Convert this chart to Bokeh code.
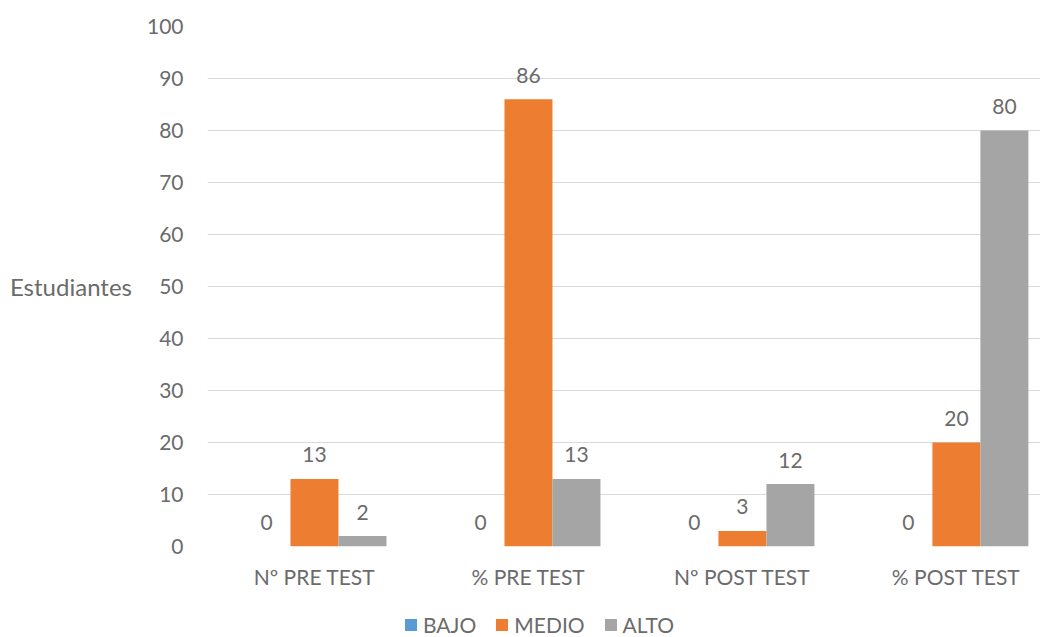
from bokeh.plotting import figure
from bokeh.layouts import column
from bokeh.models import ColumnDataSource, Range1d, FixedTicker, Legend, LegendItem
from bokeh.embed import file_html
from bokeh.resources import INLINE
from bokeh.core.properties import value

categories = ["Nº PRE TEST", "% PRE TEST", "Nº POST TEST", "% POST TEST"]
series = ["BAJO", "MEDIO", "ALTO"]
bajo = [0, 0, 0, 0]
medio = [13, 86, 3, 20]
alto = [2, 13, 12, 80]
colors = ["#5B9BD5", "#ED7D31", "#A5A5A5"]
y_ticks = [0, 10, 20, 30, 40, 50, 60, 70, 80, 90, 100]

FONT = "Lato"
TXT = "#6b6b6b"
BAR_W = 0.2243

p = figure(width=1040, height=609, output_backend="svg", toolbar_location=None,
           x_range=Range1d(-0.5, 3.393), y_range=Range1d(0, 100),
           min_border_left=207, min_border_right=0, min_border_top=26,
           min_border_bottom=63)
p.outline_line_color = None
p.xgrid.grid_line_color = None
p.ygrid.grid_line_color = "#D9D9D9"
p.ygrid.grid_line_width = 1

idx = list(range(len(categories)))
all_vals = [bajo, medio, alto]
for k, (name, vals, col) in enumerate(zip(series, all_vals, colors)):
    off = (k - 1) * BAR_W
    src = ColumnDataSource(dict(x=[i + off for i in idx], top=vals,
                                lab=[str(v) for v in vals]))
    p.vbar(x="x", top="top", width=BAR_W, source=src, fill_color=col,
           line_color=None)
    p.text(x="x", y="top", text="lab", source=src, text_align="center",
           text_baseline="middle", y_offset=-24, text_color=TXT,
           text_font=value(FONT), text_font_size="21px")

p.xaxis.ticker = FixedTicker(ticks=idx)
p.xaxis.major_label_overrides = {i: c for i, c in enumerate(categories)}
p.yaxis.ticker = FixedTicker(ticks=y_ticks)
for ax in (p.xaxis, p.yaxis):
    ax.axis_line_color = None
    ax.major_tick_line_color = None
    ax.minor_tick_line_color = None
    ax.major_label_text_color = TXT
    ax.major_label_text_font = FONT
    ax.major_label_text_font_size = "21px"
p.xaxis.major_label_standoff = 11
p.yaxis.major_label_standoff = 18
p.yaxis.axis_label = "Estudiantes"
p.yaxis.axis_label_orientation = "horizontal"
p.yaxis.axis_label_text_font = FONT
p.yaxis.axis_label_text_font_style = "normal"
p.yaxis.axis_label_text_font_size = "24px"
p.yaxis.axis_label_text_color = TXT
p.yaxis.axis_label_standoff = 12

# legend strip below the chart (frame aligned with the main chart's frame)
leg = figure(width=1040, height=28, output_backend="svg", toolbar_location=None,
             x_range=Range1d(-0.5, 3.393), y_range=Range1d(500, 501),
             x_axis_location=None, y_axis_location=None,
             min_border_left=207, min_border_right=0, min_border_top=0,
             min_border_bottom=0)
leg.outline_line_color = None
leg.grid.grid_line_color = None
# zero-height bars outside the visible range: they only provide legend swatches
swatches = [leg.vbar(x=idx, top=vals, bottom=vals, width=BAR_W,
                     fill_color=c, line_color=None)
            for vals, c in zip(all_vals, colors)]
legend = Legend(items=[LegendItem(label=s, renderers=[r]) for s, r in zip(series, swatches)],
                orientation="horizontal", location=(196, 0),
                label_text_font=FONT, label_text_font_size="21px",
                label_text_color=TXT, glyph_width=15, glyph_height=15,
                label_standoff=5, spacing=18, padding=0, margin=0,
                border_line_color=None, background_fill_alpha=0)
leg.add_layout(legend, "center")

layout = column(p, leg, spacing=0)
open("out.html", "w").write(file_html(layout, INLINE))
